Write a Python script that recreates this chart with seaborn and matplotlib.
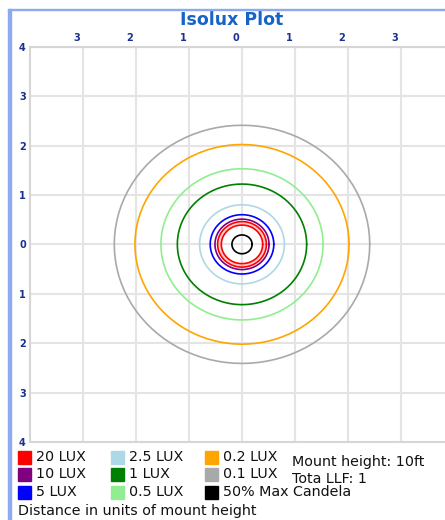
import numpy as np
import pandas as pd
import matplotlib
matplotlib.use("Agg")
import matplotlib.pyplot as plt
import matplotlib.transforms as mtransforms
from matplotlib.patches import Rectangle
import seaborn as sns

# Isolux contour levels (legend order) and estimated radii in mount heights
levels = ["20 LUX", "10 LUX", "5 LUX", "2.5 LUX", "1 LUX", "0.5 LUX",
          "0.2 LUX", "0.1 LUX", "50% Max Candela"]
level_colors = ["#ff0000", "#800080", "#0000ff", "#add8e6", "#008000",
                "#90ee90", "#ffa500", "#a9a9a9", "#000000"]
# each contour: (level, radius); 20 LUX has two rings
contour_levels = ["0.1 LUX", "0.2 LUX", "0.5 LUX", "1 LUX", "2.5 LUX",
                  "5 LUX", "10 LUX", "20 LUX", "20 LUX", "50% Max Candela"]
contour_radii = [2.41, 2.02, 1.53, 1.22, 0.80, 0.60, 0.51, 0.46, 0.39, 0.19]

x_ticks = [-3, -2, -1, 0, 1, 2, 3]
y_ticks = [-4, -3, -2, -1, 0, 1, 2, 3, 4]

mount_height = "Mount height: 10ft"
total_llf = "Tota LLF: 1"
axis_note = "Distance in units of mount height"

# build contour table
theta = np.linspace(0, 2 * np.pi, 97)
rows = []
for i, (lev, r) in enumerate(zip(contour_levels, contour_radii)):
    for t in theta:
        rows.append({"ring": i, "level": lev, "x": r * np.cos(t), "y": r * np.sin(t)})
df = pd.DataFrame(rows)

sns.set_style("white")
plt.rcParams["font.family"] = ["DejaVu Sans"]

fig = plt.figure(figsize=(4.45, 5.2), dpi=100)
ax = fig.add_axes([30 / 445, 1 - 442 / 520, 1 - 30 / 445, (442 - 46.7) / 520])

# faint pink band between the two 20 LUX rings
ax.fill(np.r_[0.46 * np.cos(theta), 0.39 * np.cos(theta[::-1])],
        np.r_[0.46 * np.sin(theta), 0.39 * np.sin(theta[::-1])],
        color="#ffb0b0", alpha=0.6, lw=0)

palette = dict(zip(levels, level_colors))
sns.lineplot(data=df, x="x", y="y", hue="level", units="ring", estimator=None,
             sort=False, palette=palette, linewidth=1.2, legend=False, ax=ax)

ax.set_xlim(-4, 3.83)
ax.set_ylim(-4, 4)
ax.set_xlabel("")
ax.set_ylabel("")

tick_color = "#1a2f8f"
ax.xaxis.tick_top()
ax.set_xticks(x_ticks)
ax.set_xticklabels([str(abs(v)) for v in x_ticks], color=tick_color, fontsize=7,
                   fontweight="bold")
ax.set_yticks(y_ticks)
ax.set_yticklabels([str(abs(v)) for v in y_ticks], color=tick_color, fontsize=7,
                   fontweight="bold")
ax.tick_params(length=0, pad=3)
shift = mtransforms.ScaledTranslation(-6 / 100, 0, fig.dpi_scale_trans)
for lab in ax.get_xticklabels():
    lab.set_transform(lab.get_transform() + shift)

ax.grid(True, color="#e4e4e4", linewidth=1.5)
ax.set_axisbelow(True)
for side, sp in ax.spines.items():
    sp.set_visible(side in ("left", "top", "bottom"))
    sp.set_color("#d6d6d6")
    sp.set_linewidth(1.5)

# panel border
border = "#8caaf2"
fig.patches.append(Rectangle((8 / 445, 0), 3 / 445, 1 - 9 / 520,
                             transform=fig.transFigure, color=border, zorder=5))
fig.patches.append(Rectangle((8 / 445, 1 - 10 / 520), 1 - 8 / 445, 1 / 520,
                             transform=fig.transFigure, color=border, zorder=5))

fig.text(0.52, 1 - 20 / 520, "Isolux Plot", ha="center", va="center",
         fontsize=12.5, fontweight="bold", color="#1763c6")

# legend grid: 3 columns x 3 rows
col_x = [18, 111, 205]
row_y = [457, 474, 492]
for i, (lev, col) in enumerate(zip(levels, level_colors)):
    cx = col_x[i // 3]
    cy = row_y[i % 3]
    fig.patches.append(Rectangle((cx / 445, 1 - (cy + 6.5) / 520), 13 / 445, 13 / 520,
                                 transform=fig.transFigure, color=col))
    fig.text((cx + 18) / 445, 1 - cy / 520, lev, ha="left", va="center",
             fontsize=10.3, color="#111111")

fig.text(292 / 445, 1 - 462 / 520, mount_height, ha="left", va="center",
         fontsize=10.3, color="#111111")
fig.text(292 / 445, 1 - 479 / 520, total_llf, ha="left", va="center",
         fontsize=10.3, color="#111111")
fig.text(18 / 445, 1 - 511 / 520, axis_note, ha="left", va="center",
         fontsize=10.3, color="#111111")

fig.savefig("out.png", dpi=100)
